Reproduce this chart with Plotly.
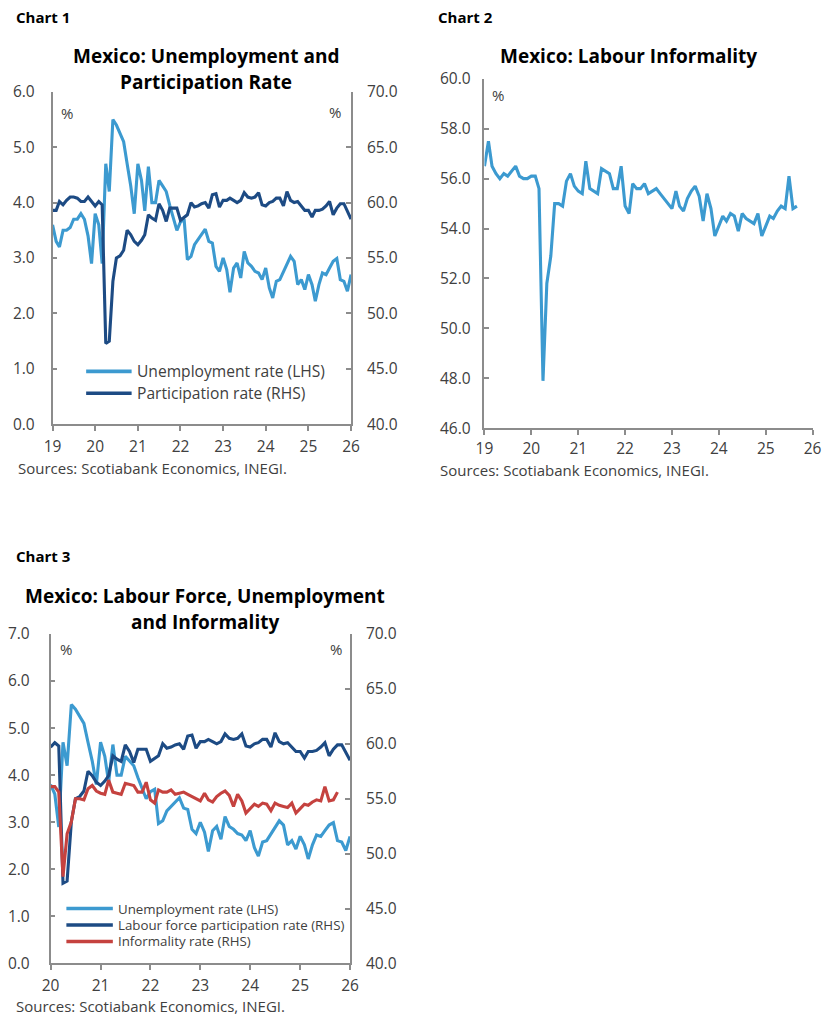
import pandas as pd
import plotly.graph_objects as go

# ---------------- data ----------------
months = pd.date_range("2019-01-01", "2026-01-01", freq="MS")  # monthly, Jan-2019 .. Jan-2026

unemployment = [
    3.6, 3.3, 3.2, 3.5, 3.5, 3.55, 3.7, 3.7, 3.8, 3.7, 3.4, 2.9,      # 2019
    3.8, 3.6, 2.9, 4.7, 4.2, 5.5, 5.4, 5.25, 5.1, 4.7, 4.3, 3.8,      # 2020
    4.7, 4.4, 3.85, 4.65, 4.0, 4.0, 4.4, 4.3, 4.2, 3.95, 3.7, 3.5,   # 2021
    3.65, 3.7, 2.97, 3.03, 3.24, 3.33, 3.42, 3.52, 3.3, 3.27, 2.85, 2.76,  # 2022
    3.0, 2.79, 2.38, 2.82, 2.91, 2.64, 3.12, 2.91, 2.85, 2.76, 2.73, 2.61,  # 2023
    2.82, 2.46, 2.28, 2.58, 2.61, 2.76, 2.91, 3.03, 2.94, 2.52, 2.61, 2.43,  # 2024
    2.7, 2.52, 2.22, 2.52, 2.73, 2.7, 2.82, 2.94, 2.99, 2.61, 2.58, 2.4,     # 2025
    2.7,                                                                      # 2026
]

participation = [
    59.3, 59.3, 60.1, 59.8, 60.2, 60.5, 60.5, 60.4, 60.1, 60.1, 60.5, 60.1,  # 2019
    59.7, 60.1, 59.8, 47.3, 47.5, 52.9, 55.0, 55.2, 55.7, 57.5, 57.1, 56.5,  # 2020
    56.2, 56.6, 57.1, 58.9, 58.6, 58.4, 59.9, 59.3, 58.3, 59.5, 59.5, 59.5,  # 2021
    58.4, 58.7, 58.9, 60.0, 59.6, 59.7, 59.9, 60.0, 59.5, 60.7, 60.8, 59.6,  # 2022
    60.2, 60.2, 60.4, 60.2, 60.0, 60.2, 60.9, 60.5, 60.4, 60.5, 60.9, 59.8,  # 2023
    59.7, 60.0, 60.1, 60.4, 60.4, 59.7, 61.0, 60.2, 60.0, 60.1, 59.7, 59.3,  # 2024
    59.3, 58.7, 59.3, 59.3, 59.4, 59.7, 60.1, 58.9, 59.5, 59.9, 59.9, 59.2,  # 2025
    58.5,                                                                     # 2026
]

informality = [
    56.5, 57.5, 56.5, 56.2, 56.0, 56.2, 56.1, 56.3, 56.5, 56.1, 56.0, 56.0,  # 2019
    56.1, 56.1, 55.6, 47.9, 51.8, 52.9, 55.0, 55.0, 54.9, 55.9, 56.2, 55.7,  # 2020
    55.5, 55.4, 56.7, 55.6, 55.5, 55.4, 56.4, 56.3, 56.2, 55.6, 55.6, 56.5,  # 2021
    54.9, 54.6, 55.8, 55.6, 55.6, 55.8, 55.4, 55.5, 55.6, 55.4, 55.2, 55.0,  # 2022
    54.8, 55.5, 54.9, 54.7, 55.2, 55.5, 55.7, 55.3, 54.3, 55.4, 54.8, 53.7,  # 2023
    54.1, 54.5, 54.3, 54.6, 54.5, 53.9, 54.6, 54.4, 54.3, 54.2, 54.6, 53.7,  # 2024
    54.1, 54.5, 54.4, 54.7, 54.9, 54.8, 56.1, 54.8, 54.9,                    # 2025 (to Sep)
]
informality_oct_2025 = [55.6]   # extra month shown in Chart 3 only

year_ticks_1 = ["19", "20", "21", "22", "23", "24", "25", "26"]
year_ticks_3 = ["20", "21", "22", "23", "24", "25", "26"]

# ---------------- style ----------------
S = 0.98          # observed page scale of the photographed figure
OFF = 18.5        # observed page offset (figure px) of the figure origin
W, H = 828, 1025
LIGHT = "#3C9AD0"
DARK = "#1D4B84"
RED = "#C5423F"
AXIS = "#8C8C8C"
TXT = "#404040"
FONT = "Open Sans"


def clamp(v):
    return min(1.0, max(0.0, v))


def fx(px):
    return (px / S - OFF) / W


def fy(py):
    return 1 - (py / S - OFF) / H


dates = list(months)
dates_2020 = [d for d in dates if d.year >= 2020]
unemp_2020 = unemployment[12:]
part_2020 = participation[12:]
inf_dates_2 = dates[:len(informality)]
inf_3 = informality[12:] + informality_oct_2025
inf_dates_3 = dates[12:12 + len(inf_3)]

LW = 3.1
fig = go.Figure()
# Chart 1
fig.add_trace(go.Scatter(x=dates, y=unemployment, mode="lines", name="Unemployment rate (LHS)",
                         line=dict(color=LIGHT, width=LW), xaxis="x", yaxis="y"))
fig.add_trace(go.Scatter(x=dates, y=participation, mode="lines", name="Participation rate (RHS)",
                         line=dict(color=DARK, width=LW), xaxis="x", yaxis="y2"))
# Chart 2
fig.add_trace(go.Scatter(x=inf_dates_2, y=informality, mode="lines", name="Informality rate",
                         line=dict(color=LIGHT, width=LW), xaxis="x2", yaxis="y3"))
# Chart 3
fig.add_trace(go.Scatter(x=dates_2020, y=unemp_2020, mode="lines", name="Unemployment rate (LHS)",
                         line=dict(color=LIGHT, width=LW), xaxis="x3", yaxis="y4"))
fig.add_trace(go.Scatter(x=dates_2020, y=part_2020, mode="lines", name="Labour force participation rate (RHS)",
                         line=dict(color=DARK, width=LW), xaxis="x3", yaxis="y5"))
fig.add_trace(go.Scatter(x=inf_dates_3, y=inf_3, mode="lines", name="Informality rate (RHS)",
                         line=dict(color=RED, width=LW), xaxis="x3", yaxis="y5"))

tickfont = dict(family=FONT, size=15.5, color=TXT)


def xax(domain, anchor, labels, start_year, standoff=3):
    vals = [pd.Timestamp(f"{start_year + i}-01-01") for i in range(len(labels))]
    return dict(domain=[clamp(v) for v in domain], anchor=anchor, type="date", range=[vals[0], vals[-1]],
                tickvals=vals, ticktext=labels, ticks="outside", ticklen=5, tickwidth=1.5,
                tickcolor=AXIS, showline=True, linecolor=AXIS, linewidth=1.5, showgrid=False,
                zeroline=False, tickfont=tickfont, ticklabelstandoff=standoff, fixedrange=True)


def yax(domain, anchor, rng, dtick, side="left", overlaying=None, standoff=12):
    d = dict(anchor=anchor, range=rng, dtick=dtick, tick0=rng[0], tickformat=".1f",
             ticks="inside", ticklen=5, tickwidth=1.5, tickcolor=AXIS, showline=True,
             linecolor=AXIS, linewidth=1.5, showgrid=False, zeroline=False, side=side,
             tickfont=tickfont, ticklabelstandoff=standoff, fixedrange=True)
    if overlaying:
        d["overlaying"] = overlaying
    else:
        d["domain"] = [clamp(v) for v in domain]
    return d


c1x = [fx(46), fx(348)]
c1y = [fy(423), fy(90)]
c2x = [fx(483), fx(815)]
c2y = [fy(427), fy(77)]
c3x = [fx(44), fx(347)]
c3y = [fy(963), fy(633)]

annotations = []


def txt(x, y, text, size=14, color=TXT, bold=False, xanchor="left"):
    t = f"<b>{text}</b>" if bold else text
    annotations.append(dict(x=fx(x), y=fy(y), xref="paper", yref="paper", text=t, showarrow=False,
                            xanchor=xanchor, yanchor="middle",
                            font=dict(family=FONT, size=size, color=color)))


# chart labels
txt(7, 15, "Chart 1", size=15, color="#000", bold=True)
txt(434, 15, "Chart 2", size=15, color="#000", bold=True)
txt(7, 555, "Chart 3", size=15, color="#000", bold=True)
# titles
TS = 19
txt(201, 54, "Mexico: Unemployment and", size=TS, color="#000", bold=True, xanchor="center")
txt(201, 80, "Participation Rate", size=TS, color="#000", bold=True, xanchor="center")
txt(629, 54, "Mexico: Labour Informality", size=TS, color="#000", bold=True, xanchor="center")
txt(200, 595, "Mexico: Labour Force, Unemployment", size=TS, color="#000", bold=True, xanchor="center")
txt(200, 621, "and Informality", size=TS, color="#000", bold=True, xanchor="center")
# % labels
txt(61, 111, "%", size=15, xanchor="center")
txt(332, 110, "%", size=15, xanchor="center")
txt(497, 93, "%", size=15, xanchor="center")
txt(60, 648, "%", size=15, xanchor="center")
txt(333, 648, "%", size=15, xanchor="center")
# sources
txt(9, 466.5, "Sources: Scotiabank Economics, INEGI.", size=15)
txt(436, 469, "Sources: Scotiabank Economics, INEGI.", size=15)
txt(7, 1006, "Sources: Scotiabank Economics, INEGI.", size=15)

shapes = []


def legend_item(x0, x1, y, color, label, size):
    shapes.append(dict(type="line", xref="paper", yref="paper", x0=fx(x0), x1=fx(x1), y0=fy(y), y1=fy(y),
                       line=dict(color=color, width=3.6)))
    txt(x1 + 3, y, label, size=size)


legend_item(80, 126, 370, LIGHT, "Unemployment rate (LHS)", 15.6)
legend_item(80, 126, 392, DARK, "Participation rate (RHS)", 15.6)
legend_item(60, 107, 908, LIGHT, "Unemployment rate (LHS)", 13.3)
legend_item(60, 107, 924.5, DARK, "Labour force participation rate (RHS)", 13.3)
legend_item(60, 107, 941, RED, "Informality rate (RHS)", 13.3)

fig.update_layout(
    width=W, height=H, margin=dict(l=0, r=0, t=0, b=0),
    paper_bgcolor="white", plot_bgcolor="white", showlegend=False,
    font=dict(family=FONT, color=TXT),
    xaxis=xax(c1x, "y", year_ticks_1, 2019, standoff=2),
    yaxis=yax(c1y, "x", [0, 6], 1, standoff=13),
    yaxis2=yax(None, "x", [40, 70], 5, side="right", overlaying="y", standoff=11),
    xaxis2=xax(c2x, "y3", year_ticks_1, 2019, standoff=0),
    yaxis3=yax(c2y, "x2", [46, 60], 2, standoff=9),
    xaxis3=xax(c3x, "y4", year_ticks_3, 2020, standoff=2),
    yaxis4=yax(c3y, "x3", [0, 7], 1, standoff=16),
    yaxis5=yax(None, "x3", [40, 70], 5, side="right", overlaying="y4", standoff=11),
    annotations=annotations, shapes=shapes,
)

fig.write_html("out.html")
